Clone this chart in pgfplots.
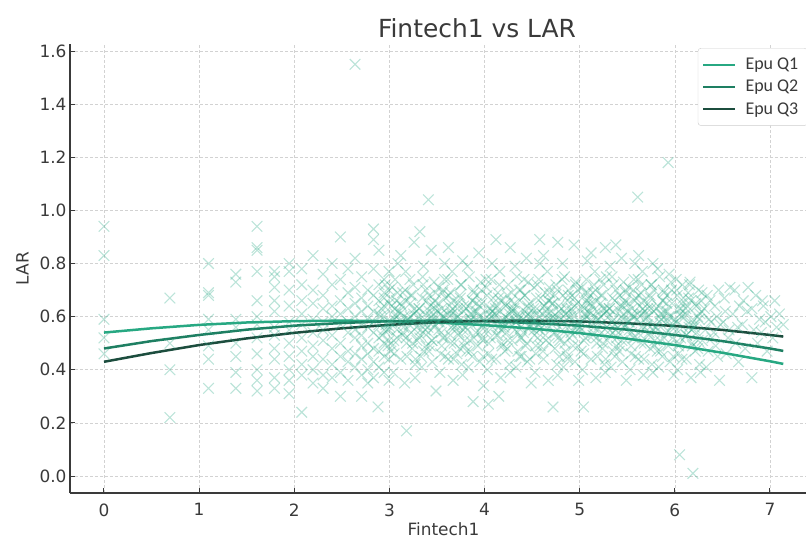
\documentclass[border=0pt]{standalone}
\usepackage{pgfplots}
\pgfplotsset{compat=1.18}
\usepackage{fontspec}
\setmainfont{DejaVu Sans}
\newfontfamily\legendfont{Carlito}
\definecolor{txt}{HTML}{3A3A3A}
\definecolor{scat}{HTML}{2EAA88}
\definecolor{qone}{HTML}{27A882}
\definecolor{qtwo}{HTML}{1E7F62}
\definecolor{qthree}{HTML}{1C4D3E}
\begin{document}
\begin{tikzpicture}
\path[use as bounding box] (-70bp,-46bp) rectangle (736bp,493bp);
\begin{axis}[
  at={(0,0)}, anchor=south west,
  scale only axis, width=736bp, height=449bp,
  xmin=-0.357, xmax=7.379, ymin=-0.064, ymax=1.6265,
  axis x line*=bottom, axis y line*=left,
  axis line style={draw=txt, line width=1.2bp},
  tick align=inside,
  major tick length=5bp,
  tick style={draw=txt, line width=1bp},
  xtick={0,1,2,3,4,5,6,7},
  ytick={0,0.2,0.4,0.6,0.8,1.0,1.2,1.4,1.6},
  /pgf/number format/assume math mode=true,
  yticklabel style={/pgf/number format/.cd, fixed, fixed zerofill, precision=1},
  xticklabel style={yshift=-7bp},
  ticklabel style={font=\fontsize{17}{20}\selectfont, text=txt},
  grid=major,
  major grid style={draw=gray!35, line width=0.6bp, dash pattern=on 3bp off 2bp},
  xlabel={Fintech1}, ylabel={LAR},
  xlabel style={font=\fontsize{17}{20}\selectfont, text=txt, at={(ticklabel cs:0.5075)}, yshift=-3bp, inner sep=0bp},
  ylabel style={font=\fontsize{17}{20}\selectfont, text=txt, yshift=4bp},
  title={Fintech1 vs LAR},
  title style={font=\fontsize{25}{29}\selectfont, text=txt, at={(0.553,1)}, anchor=center, yshift=10bp},
  legend style={at={(0.853,0.991)}, anchor=north west, draw=gray!40, rounded corners=3bp,
    fill=white, font=\legendfont\fontsize{18}{21}\selectfont, text=txt,
    inner xsep=4bp, inner ysep=8bp, row sep=5bp,
    nodes={inner xsep=5bp}},
  legend cell align=left,
  legend image code/.code={\draw[#1, line width=2.5bp] (0bp,0bp) -- (32bp,0bp);},
]
\addplot[only marks, mark=x, mark size=7.5bp, scat, mark options={line width=1.1bp, opacity=0.32}, forget plot] coordinates {
(0,0.94)(0,0.83)(0,0.59)(0,0.52)(0,0.46)
(0.693,0.67)(0.693,0.50)(0.693,0.40)(0.693,0.22)
(1.099,0.80)(1.099,0.69)(1.099,0.68)(1.099,0.59)(1.099,0.55)(1.099,0.49)(1.099,0.44)(1.099,0.33)
(1.386,0.76)(1.386,0.73)(1.386,0.59)(1.386,0.56)(1.386,0.50)(1.386,0.45)(1.386,0.39)(1.386,0.33)
(1.609,0.94)(1.609,0.86)(1.609,0.85)(1.609,0.77)(1.609,0.66)(1.609,0.60)(1.609,0.57)(1.609,0.52)(1.609,0.46)(1.609,0.40)(1.609,0.36)(1.609,0.32)
(1.792,0.77)(1.792,0.75)(1.792,0.71)(1.792,0.66)(1.792,0.62)(1.792,0.56)(1.792,0.53)(1.792,0.48)(1.792,0.44)(1.792,0.37)(1.792,0.33)
(1.946,0.80)(1.946,0.77)(1.946,0.70)(1.946,0.64)(1.946,0.58)(1.946,0.55)(1.946,0.50)(1.946,0.45)(1.946,0.40)(1.946,0.36)(1.946,0.31)
(2.079,0.78)(2.079,0.72)(2.079,0.66)(2.079,0.61)(2.079,0.57)(2.079,0.52)(2.079,0.47)(2.079,0.42)(2.079,0.38)(2.079,0.24)
(2.197,0.83)(2.197,0.70)(2.197,0.65)(2.197,0.59)(2.197,0.54)(2.197,0.49)(2.197,0.45)(2.197,0.40)(2.197,0.35)
(2.303,0.76)(2.303,0.68)(2.303,0.63)(2.303,0.58)(2.303,0.55)(2.303,0.51)(2.303,0.44)(2.303,0.38)(2.303,0.33)
(2.398,0.80)(2.398,0.72)(2.398,0.64)(2.398,0.60)(2.398,0.53)(2.398,0.48)(2.398,0.42)(2.398,0.37)
(2.485,0.90)(2.485,0.74)(2.485,0.66)(2.485,0.61)(2.485,0.57)(2.485,0.50)(2.485,0.45)(2.485,0.39)(2.485,0.30)
(2.565,0.78)(2.565,0.69)(2.565,0.63)(2.565,0.58)(2.565,0.54)(2.565,0.47)(2.565,0.43)(2.565,0.36)
(2.639,1.55)(2.639,0.82)(2.639,0.71)(2.639,0.65)(2.639,0.60)(2.639,0.55)(2.639,0.52)(2.639,0.46)(2.639,0.41)
(2.708,0.75)(2.708,0.67)(2.708,0.62)(2.708,0.57)(2.708,0.53)(2.708,0.49)(2.708,0.44)(2.708,0.38)(2.708,0.30)
(2.773,0.70)(2.773,0.64)(2.773,0.59)(2.773,0.56)(2.773,0.50)(2.773,0.46)(2.773,0.40)(2.773,0.35)
(2.833,0.93)(2.833,0.89)(2.833,0.78)(2.833,0.68)(2.833,0.62)(2.833,0.58)(2.833,0.54)(2.833,0.48)(2.833,0.43)(2.833,0.37)(2.88,0.26)
(2.890,0.85)(2.890,0.72)(2.890,0.66)(2.890,0.61)(2.890,0.57)(2.890,0.52)(2.890,0.47)(2.890,0.41)
(2.944,0.74)(2.944,0.69)(2.944,0.64)(2.944,0.60)(2.944,0.55)(2.944,0.50)(2.944,0.45)(2.944,0.39)
(2.996,0.77)(2.996,0.70)(2.996,0.65)(2.996,0.58)(2.996,0.55)(2.996,0.51)(2.996,0.44)(2.996,0.36)
(3.02,0.58)(3.03,0.71)(3.05,0.46)(3.06,0.63)(3.08,0.52)(3.09,0.80)(3.04,0.39)(3.07,0.60)(3.01,0.67)(3.08,0.55)(3.03,0.49)(3.06,0.74)
(3.11,0.61)(3.12,0.44)(3.14,0.69)(3.15,0.56)(3.17,0.77)(3.18,0.50)(3.13,0.64)(3.16,0.35)(3.19,0.59)(3.12,0.83)(3.14,0.53)(3.18,0.17)(3.17,0.66)
(3.21,0.57)(3.22,0.65)(3.24,0.48)(3.25,0.72)(3.27,0.42)(3.28,0.62)(3.23,0.54)(3.26,0.88)(3.29,0.51)(3.22,0.60)(3.24,0.68)(3.27,0.37)(3.26,0.58)
(3.31,0.63)(3.32,0.92)(3.33,0.55)(3.35,0.75)(3.36,0.47)(3.37,0.59)(3.38,0.70)(3.34,0.41)(3.39,0.66)(3.32,0.52)(3.36,0.79)(3.37,0.58)(3.33,0.45)(3.38,0.61)
(3.41,1.04)(3.41,0.54)(3.42,0.68)(3.44,0.60)(3.45,0.43)(3.47,0.73)(3.48,0.57)(3.43,0.49)(3.46,0.65)(3.49,0.32)(3.42,0.62)(3.44,0.85)(3.47,0.56)(3.48,0.63)(3.45,0.51)
(3.51,0.58)(3.52,0.71)(3.54,0.46)(3.55,0.63)(3.56,0.52)(3.58,0.80)(3.53,0.39)(3.57,0.60)(3.59,0.67)(3.52,0.55)(3.55,0.49)(3.58,0.74)(3.54,0.61)(3.56,0.69)
(3.61,0.61)(3.62,0.44)(3.64,0.69)(3.65,0.56)(3.66,0.77)(3.68,0.50)(3.63,0.64)(3.67,0.36)(3.69,0.59)(3.62,0.86)(3.64,0.53)(3.67,0.66)(3.65,0.62)(3.68,0.57)
(3.71,0.57)(3.72,0.65)(3.74,0.48)(3.75,0.72)(3.76,0.42)(3.78,0.62)(3.73,0.54)(3.77,0.81)(3.79,0.51)(3.72,0.60)(3.74,0.68)(3.77,0.38)(3.75,0.59)(3.78,0.64)(3.71,0.46)
(3.81,0.63)(3.82,0.55)(3.84,0.75)(3.85,0.47)(3.86,0.59)(3.88,0.70)(3.83,0.41)(3.87,0.66)(3.89,0.52)(3.82,0.79)(3.84,0.58)(3.87,0.45)(3.85,0.61)(3.88,0.28)
(3.91,0.54)(3.92,0.68)(3.94,0.60)(3.95,0.43)(3.96,0.73)(3.98,0.57)(3.93,0.49)(3.97,0.65)(3.99,0.34)(3.92,0.62)(3.94,0.84)(3.97,0.56)(3.95,0.64)(3.98,0.51)
(4.01,0.58)(4.02,0.71)(4.04,0.46)(4.05,0.63)(4.06,0.52)(4.08,0.80)(4.03,0.40)(4.07,0.60)(4.09,0.67)(4.02,0.55)(4.04,0.27)(4.07,0.74)(4.05,0.59)(4.08,0.62)
(4.11,0.61)(4.12,0.44)(4.14,0.69)(4.15,0.56)(4.16,0.77)(4.18,0.50)(4.13,0.64)(4.17,0.37)(4.19,0.59)(4.12,0.89)(4.14,0.53)(4.15,0.30)(4.17,0.66)(4.18,0.58)(4.16,0.62)
(4.21,0.57)(4.22,0.65)(4.24,0.48)(4.25,0.72)(4.26,0.42)(4.28,0.62)(4.23,0.54)(4.27,0.86)(4.29,0.51)(4.22,0.60)(4.24,0.68)(4.27,0.39)(4.25,0.58)(4.28,0.63)
(4.31,0.63)(4.32,0.55)(4.34,0.75)(4.35,0.47)(4.36,0.59)(4.38,0.70)(4.33,0.41)(4.37,0.66)(4.39,0.52)(4.32,0.79)(4.34,0.58)(4.37,0.45)(4.35,0.61)(4.38,0.56)
(4.41,0.54)(4.42,0.68)(4.44,0.60)(4.45,0.43)(4.46,0.73)(4.48,0.57)(4.43,0.49)(4.47,0.65)(4.49,0.35)(4.42,0.62)(4.44,0.82)(4.47,0.56)(4.45,0.64)(4.48,0.60)
(4.51,0.58)(4.52,0.71)(4.54,0.46)(4.55,0.63)(4.56,0.52)(4.58,0.80)(4.53,0.39)(4.57,0.60)(4.59,0.67)(4.52,0.55)(4.54,0.49)(4.57,0.74)(4.55,0.61)(4.58,0.89)(4.56,0.57)
(4.61,0.61)(4.62,0.44)(4.64,0.69)(4.65,0.56)(4.66,0.77)(4.68,0.50)(4.63,0.64)(4.67,0.36)(4.69,0.59)(4.62,0.83)(4.64,0.53)(4.67,0.66)(4.65,0.62)(4.68,0.71)
(4.71,0.57)(4.72,0.26)(4.72,0.65)(4.74,0.48)(4.75,0.72)(4.76,0.42)(4.78,0.62)(4.73,0.54)(4.77,0.88)(4.79,0.51)(4.72,0.60)(4.74,0.68)(4.77,0.38)(4.75,0.59)(4.78,0.64)
(4.81,0.63)(4.82,0.55)(4.84,0.75)(4.85,0.47)(4.86,0.59)(4.88,0.70)(4.83,0.41)(4.87,0.66)(4.89,0.52)(4.82,0.80)(4.84,0.58)(4.87,0.45)(4.85,0.61)(4.88,0.68)
(4.91,0.54)(4.92,0.68)(4.94,0.60)(4.95,0.43)(4.96,0.73)(4.98,0.57)(4.93,0.49)(4.97,0.65)(4.99,0.36)(4.92,0.62)(4.94,0.87)(4.97,0.56)(4.95,0.64)(4.98,0.70)
(5.01,0.58)(5.02,0.71)(5.04,0.46)(5.05,0.63)(5.06,0.52)(5.08,0.81)(5.03,0.40)(5.07,0.60)(5.09,0.67)(5.02,0.55)(5.04,0.26)(5.07,0.74)(5.05,0.61)(5.08,0.65)(5.06,0.69)
(5.11,0.61)(5.12,0.44)(5.14,0.69)(5.15,0.56)(5.16,0.77)(5.18,0.50)(5.13,0.64)(5.17,0.37)(5.19,0.59)(5.12,0.84)(5.14,0.53)(5.17,0.66)(5.15,0.72)(5.18,0.62)
(5.21,0.57)(5.22,0.65)(5.24,0.48)(5.25,0.72)(5.26,0.42)(5.28,0.62)(5.23,0.54)(5.27,0.86)(5.29,0.51)(5.22,0.60)(5.24,0.68)(5.27,0.39)(5.25,0.63)(5.28,0.75)
(5.31,0.63)(5.32,0.55)(5.34,0.75)(5.35,0.47)(5.36,0.59)(5.38,0.70)(5.33,0.41)(5.37,0.66)(5.39,0.52)(5.32,0.79)(5.34,0.58)(5.37,0.45)(5.35,0.62)(5.38,0.87)
(5.41,0.54)(5.42,0.68)(5.44,0.60)(5.45,0.43)(5.46,0.73)(5.48,0.57)(5.43,0.49)(5.47,0.65)(5.49,0.36)(5.42,0.62)(5.44,0.82)(5.47,0.56)(5.45,0.64)(5.48,0.70)
(5.51,0.58)(5.52,0.71)(5.54,0.46)(5.55,0.63)(5.56,0.52)(5.58,0.80)(5.53,0.40)(5.57,0.60)(5.59,0.67)(5.52,0.55)(5.54,0.49)(5.57,0.74)(5.55,0.61)(5.58,0.66)
(5.61,1.05)(5.61,0.61)(5.62,0.44)(5.64,0.69)(5.65,0.56)(5.66,0.77)(5.68,0.50)(5.63,0.64)(5.67,0.38)(5.69,0.59)(5.62,0.83)(5.64,0.53)(5.67,0.66)(5.65,0.72)(5.68,0.62)
(5.71,0.57)(5.72,0.65)(5.74,0.48)(5.75,0.72)(5.76,0.42)(5.78,0.62)(5.73,0.54)(5.77,0.80)(5.79,0.51)(5.72,0.60)(5.74,0.68)(5.77,0.39)(5.75,0.63)(5.78,0.70)
(5.81,0.63)(5.82,0.55)(5.84,0.75)(5.85,0.47)(5.86,0.59)(5.88,0.70)(5.83,0.41)(5.87,0.66)(5.89,0.52)(5.82,0.78)(5.84,0.58)(5.87,0.45)(5.85,0.61)
(5.93,1.18)(5.91,0.54)(5.92,0.68)(5.94,0.60)(5.95,0.43)(5.96,0.73)(5.98,0.57)(5.93,0.49)(5.97,0.65)(5.99,0.38)(5.92,0.62)(5.94,0.76)(5.97,0.56)
(6.01,0.58)(6.02,0.70)(6.04,0.46)(6.05,0.08)(6.05,0.63)(6.06,0.52)(6.08,0.72)(6.03,0.40)(6.07,0.60)(6.09,0.67)(6.02,0.55)(6.04,0.49)(6.07,0.65)
(6.11,0.61)(6.12,0.44)(6.14,0.69)(6.15,0.56)(6.16,0.73)(6.18,0.50)(6.13,0.64)(6.17,0.37)(6.19,0.01)(6.19,0.59)(6.12,0.53)(6.17,0.66)
(6.21,0.57)(6.22,0.65)(6.24,0.48)(6.25,0.70)(6.26,0.42)(6.28,0.62)(6.23,0.54)(6.29,0.51)(6.24,0.60)(6.27,0.39)
(6.31,0.63)(6.32,0.55)(6.34,0.68)(6.35,0.47)(6.36,0.59)(6.33,0.41)(6.37,0.66)(6.39,0.52)(6.38,0.58)
(6.41,0.54)(6.42,0.64)(6.44,0.60)(6.45,0.45)(6.46,0.70)(6.48,0.57)(6.43,0.49)(6.47,0.36)
(6.51,0.58)(6.52,0.67)(6.54,0.46)(6.56,0.52)(6.58,0.71)(6.53,0.62)(6.57,0.55)
(6.61,0.61)(6.63,0.70)(6.64,0.50)(6.66,0.56)(6.68,0.64)(6.67,0.43)
(6.71,0.57)(6.72,0.66)(6.74,0.48)(6.77,0.71)(6.76,0.62)(6.81,0.37)
(6.81,0.63)(6.83,0.55)(6.85,0.68)(6.87,0.50)(6.89,0.59)
(6.92,0.66)(6.91,0.54)(6.93,0.64)(6.95,0.58)(6.97,0.47)
(7.01,0.60)(7.03,0.52)(7.05,0.66)(7.07,0.56)(7.10,0.61)(7.14,0.57)
(2.905,0.60)(2.925,0.53)(2.945,0.67)(2.965,0.57)(2.985,0.49)(2.915,0.63)(2.955,0.72)(2.975,0.55)
(3.005,0.56)(3.025,0.64)(3.045,0.51)(3.065,0.61)(3.085,0.69)(3.015,0.47)(3.055,0.59)(3.075,0.66)
(3.105,0.62)(3.125,0.58)(3.145,0.54)(3.165,0.70)(3.185,0.45)(3.115,0.65)(3.155,0.60)(3.175,0.52)
(3.205,0.59)(3.225,0.68)(3.245,0.50)(3.265,0.63)(3.285,0.56)(3.215,0.74)(3.255,0.61)(3.275,0.44)
(3.305,0.60)(3.325,0.53)(3.345,0.67)(3.365,0.57)(3.385,0.49)(3.315,0.63)(3.355,0.72)(3.375,0.55)
(3.405,0.56)(3.425,0.64)(3.445,0.51)(3.465,0.61)(3.485,0.69)(3.415,0.47)(3.455,0.59)(3.475,0.66)
(3.505,0.62)(3.525,0.58)(3.545,0.54)(3.565,0.70)(3.585,0.45)(3.515,0.65)(3.555,0.60)(3.575,0.52)
(3.605,0.59)(3.625,0.68)(3.645,0.50)(3.665,0.63)(3.685,0.56)(3.615,0.74)(3.655,0.61)(3.675,0.44)
(3.705,0.60)(3.725,0.53)(3.745,0.67)(3.765,0.57)(3.785,0.49)(3.715,0.63)(3.755,0.72)(3.775,0.55)
(3.805,0.56)(3.825,0.64)(3.845,0.51)(3.865,0.61)(3.885,0.69)(3.815,0.47)(3.855,0.59)(3.875,0.66)
(3.905,0.62)(3.925,0.58)(3.945,0.54)(3.965,0.70)(3.985,0.45)(3.915,0.65)(3.955,0.60)(3.975,0.52)
(4.005,0.59)(4.025,0.68)(4.045,0.50)(4.065,0.63)(4.085,0.56)(4.015,0.74)(4.055,0.61)(4.075,0.44)
(4.105,0.60)(4.125,0.53)(4.145,0.67)(4.165,0.57)(4.185,0.49)(4.115,0.63)(4.155,0.72)(4.175,0.55)
(4.205,0.56)(4.225,0.64)(4.245,0.51)(4.265,0.61)(4.285,0.69)(4.215,0.47)(4.255,0.59)(4.275,0.66)
(4.305,0.62)(4.325,0.58)(4.345,0.54)(4.365,0.70)(4.385,0.45)(4.315,0.65)(4.355,0.60)(4.375,0.52)
(4.405,0.59)(4.425,0.68)(4.445,0.50)(4.465,0.63)(4.485,0.56)(4.415,0.74)(4.455,0.61)(4.475,0.44)
(4.505,0.60)(4.525,0.53)(4.545,0.67)(4.565,0.57)(4.585,0.49)(4.515,0.63)(4.555,0.72)(4.575,0.55)
(4.605,0.56)(4.625,0.64)(4.645,0.51)(4.665,0.61)(4.685,0.69)(4.615,0.47)(4.655,0.59)(4.675,0.66)
(4.705,0.62)(4.725,0.58)(4.745,0.54)(4.765,0.70)(4.785,0.45)(4.715,0.65)(4.755,0.60)(4.775,0.52)
(4.805,0.59)(4.825,0.68)(4.845,0.50)(4.865,0.63)(4.885,0.56)(4.815,0.74)(4.855,0.61)(4.875,0.44)
(4.905,0.60)(4.925,0.53)(4.945,0.67)(4.965,0.57)(4.985,0.49)(4.915,0.63)(4.955,0.72)(4.975,0.55)
(5.005,0.56)(5.025,0.64)(5.045,0.51)(5.065,0.61)(5.085,0.69)(5.015,0.47)(5.055,0.59)(5.075,0.66)
(5.105,0.62)(5.125,0.58)(5.145,0.54)(5.165,0.70)(5.185,0.45)(5.115,0.65)(5.155,0.60)(5.175,0.52)
(5.205,0.59)(5.225,0.68)(5.245,0.50)(5.265,0.63)(5.285,0.56)(5.215,0.74)(5.255,0.61)(5.275,0.44)
(5.305,0.60)(5.325,0.53)(5.345,0.67)(5.365,0.57)(5.385,0.49)(5.315,0.63)(5.355,0.72)(5.375,0.55)
(5.405,0.56)(5.425,0.64)(5.445,0.51)(5.465,0.61)(5.485,0.69)(5.415,0.47)(5.455,0.59)(5.475,0.66)
(5.505,0.62)(5.525,0.58)(5.545,0.54)(5.565,0.70)(5.585,0.45)(5.515,0.65)(5.555,0.60)(5.575,0.52)
(5.605,0.59)(5.625,0.68)(5.645,0.50)(5.665,0.63)(5.685,0.56)(5.615,0.74)(5.655,0.61)(5.675,0.44)
(5.705,0.60)(5.725,0.53)(5.745,0.67)(5.765,0.57)(5.785,0.49)(5.715,0.63)(5.755,0.72)(5.775,0.55)
(5.805,0.56)(5.825,0.64)(5.845,0.51)(5.865,0.61)(5.885,0.69)(5.815,0.47)(5.855,0.59)(5.875,0.66)
(5.905,0.62)(5.925,0.58)(5.945,0.54)(5.965,0.70)(5.985,0.45)(5.915,0.65)(5.955,0.60)(5.975,0.52)
(6.005,0.59)(6.025,0.68)(6.045,0.50)(6.065,0.63)(6.085,0.56)(6.015,0.74)(6.055,0.61)(6.075,0.44)
(6.105,0.60)(6.125,0.53)(6.145,0.67)(6.165,0.57)(6.185,0.49)(6.115,0.63)(6.155,0.72)(6.175,0.55)
(6.205,0.56)(6.225,0.64)(6.245,0.51)(6.265,0.61)(6.285,0.69)(6.215,0.47)(6.255,0.59)(6.275,0.66)
};
\addplot[qone, line width=2.5bp] coordinates {
(0,0.540)(0.5,0.556)(1,0.569)(1.5,0.578)(2,0.583)(2.5,0.585)(3,0.583)(3.5,0.578)(4,0.568)(4.5,0.555)(5,0.538)(5.5,0.517)(6,0.493)(6.5,0.464)(7,0.432)(7.14,0.422)
};
\addlegendentry{\hspace{4bp}Epu Q1}
\addplot[qtwo, line width=2.5bp] coordinates {
(0,0.480)(0.5,0.508)(1,0.531)(1.5,0.551)(2,0.566)(2.5,0.576)(3,0.583)(3.5,0.585)(4,0.583)(4.5,0.576)(5,0.566)(5.5,0.551)(6,0.531)(6.5,0.508)(7,0.480)(7.14,0.471)
};
\addlegendentry{\hspace{4bp}Epu Q2}
\addplot[qthree, line width=2.5bp] coordinates {
(0,0.430)(0.5,0.463)(1,0.493)(1.5,0.518)(2,0.539)(2.5,0.556)(3,0.569)(3.5,0.579)(4,0.584)(4.5,0.585)(5,0.582)(5.5,0.575)(6,0.565)(6.5,0.550)(7,0.531)(7.14,0.525)
};
\addlegendentry{\hspace{4bp}Epu Q3}
\end{axis}
\end{tikzpicture}
\end{document}
